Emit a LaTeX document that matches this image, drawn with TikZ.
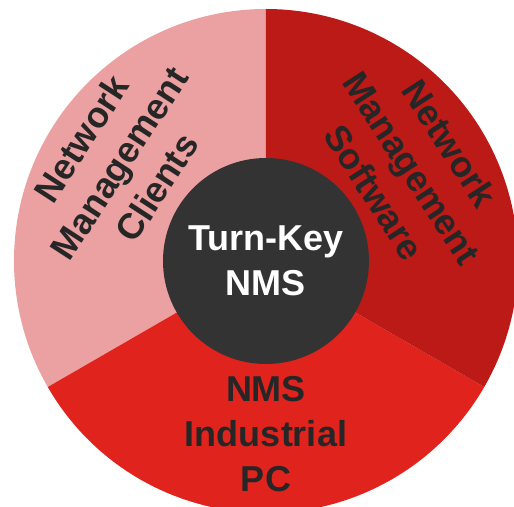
\documentclass[tikz,border=0pt]{standalone}
\usepackage{fontspec}
\setmainfont{Liberation Sans}
\usepackage{tikz}
\usetikzlibrary{positioning}
\definecolor{NmsPink}{HTML}{EBA1A1}
\definecolor{NmsDark}{HTML}{BB1A17}
\definecolor{NmsRed}{HTML}{E1231D}
\definecolor{NmsCore}{HTML}{333333}
\definecolor{NmsInk}{HTML}{262626}

\begin{document}
\begin{tikzpicture}[x=1pt,y=1pt,font=\fontsize{36}{45}\selectfont\bfseries,
  sectortext/.style={text=NmsInk,align=center,inner sep=0pt}]
  \useasboundingbox (-266,-245) rectangle (248,261);
  \foreach \a/\b/\c in {90/210/NmsPink,210/330/NmsRed,330/450/NmsDark} {
    \fill[\c] (0,0) -- (\a:252) arc[start angle=\a,end angle=\b,radius=252pt] -- cycle;
  }
  \node[circle,fill=NmsCore,minimum size=206pt,inner sep=0pt,text=white,align=center] (core) at (0,0) {Turn-Key\\NMS};
  \node[sectortext,rotate=57] (clients) at (-147,98) {Network\\Management\\Clients};
  \node[sectortext,rotate=-57] (software) at (146,93) {Network\\Management\\Software};
  \node[sectortext] (pc) at (0,-173) {NMS\\Industrial\\PC};
\end{tikzpicture}
\end{document}
